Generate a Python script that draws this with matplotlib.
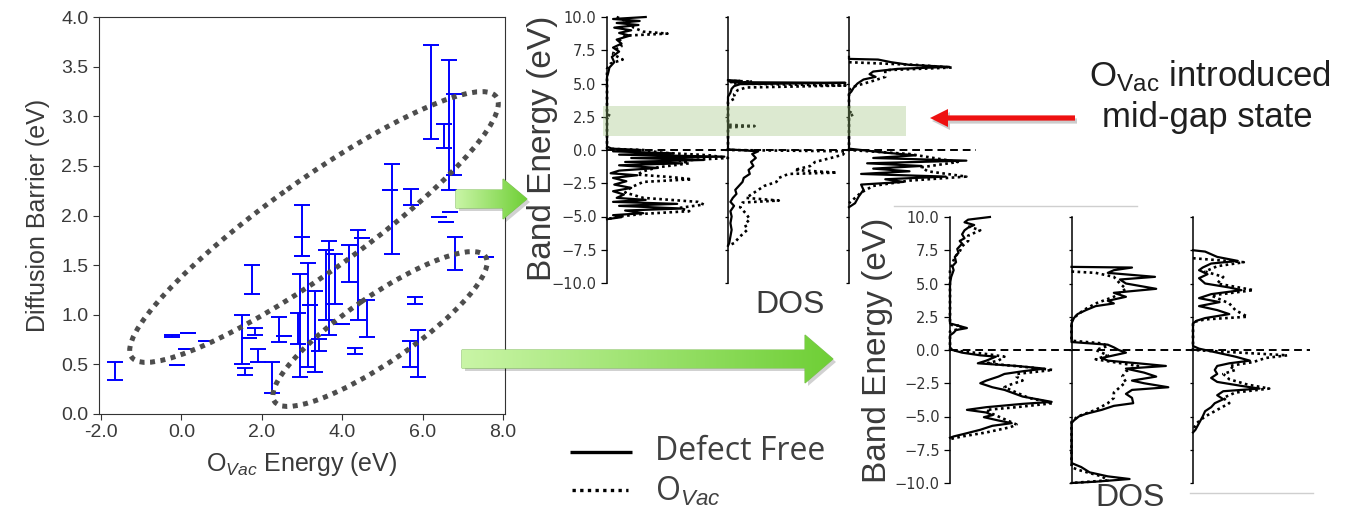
import matplotlib.pyplot as plt
from matplotlib.colors import LinearSegmentedColormap
from matplotlib.patches import Ellipse, Polygon, Rectangle
from matplotlib.ticker import FuncFormatter
import numpy as np

plt.rcParams["mathtext.fontset"] = "custom"
plt.rcParams["mathtext.rm"] = "Liberation Sans"
plt.rcParams["mathtext.it"] = "Liberation Sans:italic"

W, H = 1349, 513
TXT = "#3a3a3a"

# left panel: O-vacancy energy vs diffusion barrier (lower / upper end of each bar)
vac_energy = [-1.64, -0.23, -0.11, 0.17, 0.12, 0.61, 1.51, 1.58, 1.76, 1.84, 1.68,
              1.91, 2.26, 2.44, 2.55, 3.0, 3.0, 2.94, 2.9, 3.15, 3.32, 3.42, 3.2,
              3.6, 3.68, 3.82, 4.0, 4.17, 4.31, 4.4, 4.5, 4.62, 5.24, 5.2, 5.7,
              5.81, 5.68, 5.89, 6.22, 6.53, 6.66, 6.78, 6.41, 6.59, 6.67, 6.8, 7.57]
barrier_lo = [0.34, 0.78, 0.49, 0.82, 0.65, 0.74, 0.50, 0.395, 1.21, 0.80, 0.77,
              0.52, 0.21, 0.73, 0.79, 1.59, 1.59, 0.37, 0.71, 0.47, 0.42, 0.635, 1.10,
              0.95, 0.80, 1.11, 0.91, 1.33, 0.60, 0.95, 1.77, 0.78, 1.61, 2.26, 2.11,
              1.11, 0.47, 0.37, 2.77, 2.68, 2.26, 2.41, 1.98, 1.93, 2.04, 1.45, 1.58]
barrier_hi = [0.52, 0.80, 0.49, 0.82, 0.65, 0.74, 1.00, 0.466, 1.50, 0.87, 0.77,
              0.65, 0.52, 0.98, 0.79, 2.11, 1.78, 1.41, 1.02, 1.52, 1.24, 0.76, 1.10,
              1.65, 1.74, 1.61, 0.91, 1.70, 0.665, 1.85, 1.77, 1.15, 2.52, 2.26, 2.27,
              1.18, 0.74, 0.85, 3.72, 2.92, 3.57, 3.22, 1.98, 1.93, 2.04, 1.78, 1.58]

# DOS curves: (band energy eV, DOS as fraction of panel width)
top_a_free = [(10.0, 0.32), (9.85, 0.05), (9.7, 0.27), (9.55, 0.08), (9.4, 0.26), (9.2, 0.06),
              (9.0, 0.2), (8.8, 0.1), (8.6, 0.19), (8.3, 0.08), (8.0, 0.12), (7.7, 0.05),
              (7.4, 0.1), (7.0, 0.04), (6.6, 0.06), (6.2, 0.02), (5.8, 0.01), (5.5, 0.0),
              (0.25, 0.0), (0.1, 0.04), (0.0, 0.28), (-0.1, 0.05), (-0.25, 0.55), (-0.35, 0.1),
              (-0.5, 0.97), (-0.6, 0.2), (-0.75, 0.8), (-0.9, 0.15), (-1.0, 0.62), (-1.15, 0.1),
              (-1.35, 0.42), (-1.55, 0.1), (-1.75, 0.03), (-1.9, 0.25), (-2.1, 0.05),
              (-2.35, 0.16), (-2.6, 0.06), (-2.85, 0.2), (-3.1, 0.05), (-3.35, 0.14),
              (-3.6, 0.08), (-3.75, 0.32), (-3.9, 0.05), (-4.05, 0.58), (-4.2, 0.1),
              (-4.4, 0.62), (-4.55, 0.15), (-4.75, 0.3), (-4.9, 0.05), (-5.05, 0.12), (-5.2, 0.0)]
top_a_vac = [(10.0, 0.08), (9.6, 0.18), (9.2, 0.22), (8.9, 0.3), (8.75, 0.5), (8.6, 0.15),
             (8.2, 0.1), (7.8, 0.12), (7.5, 0.06), (7.2, 0.05), (6.8, 0.13), (6.5, 0.03),
             (6.1, 0.0), (2.7, 0.0), (2.55, 0.03), (2.4, 0.0), (0.1, 0.0), (0.0, 0.3),
             (-0.2, 0.45), (-0.4, 0.85), (-0.6, 1.0), (-0.8, 0.6), (-1.0, 0.68), (-1.3, 0.42),
             (-1.6, 0.3), (-1.85, 0.25), (-2.05, 0.55), (-2.2, 0.7), (-2.4, 0.3), (-2.8, 0.2),
             (-3.2, 0.15), (-3.6, 0.3), (-3.9, 0.75), (-4.1, 0.8), (-4.35, 0.6), (-4.6, 0.68),
             (-4.8, 0.3), (-5.0, 0.1), (-5.2, 0.0)]
top_b_free = [(5.25, 0.0), (5.2, 0.1), (5.1, 0.02), (5.05, 0.97), (4.95, 0.1), (4.8, 0.05),
              (4.6, 0.03), (4.3, 0.02), (4.0, 0.0), (0.05, 0.0), (-0.1, 0.25), (-0.3, 0.2),
              (-0.6, 0.23), (-0.9, 0.19), (-1.2, 0.21), (-1.5, 0.17), (-1.8, 0.18), (-2.1, 0.13),
              (-2.4, 0.12), (-2.7, 0.09), (-3.0, 0.06), (-3.3, 0.07), (-3.6, 0.04), (-3.9, 0.02),
              (-4.2, 0.05), (-4.6, 0.02), (-5.0, 0.03), (-5.5, 0.02), (-6.0, 0.03), (-6.5, 0.02),
              (-7.0, 0.01), (-7.2, 0.0)]
top_b_vac = [(5.2, 0.0), (5.15, 0.2), (5.0, 0.05), (4.85, 0.97), (4.7, 0.15), (4.5, 0.08),
             (4.2, 0.05), (3.9, 0.06), (3.6, 0.0), (1.9, 0.0), (1.8, 0.22), (1.7, 0.0),
             (0.0, 0.0), (-0.1, 0.97), (-0.35, 0.95), (-0.6, 0.85), (-0.9, 0.72), (-1.2, 0.68),
             (-1.5, 0.55), (-1.7, 0.9), (-1.8, 0.5), (-2.1, 0.42), (-2.4, 0.4), (-2.7, 0.3),
             (-3.0, 0.25), (-3.3, 0.2), (-3.6, 0.15), (-3.8, 0.42), (-3.95, 0.12), (-4.3, 0.1),
             (-4.8, 0.15), (-5.2, 0.18), (-5.6, 0.14), (-6.0, 0.16), (-6.5, 0.1), (-7.0, 0.05),
             (-7.2, 0.0)]
top_c_free = [(7.0, 0.0), (6.85, 0.0), (6.8, 0.24), (6.6, 0.35), (6.4, 0.5), (6.25, 0.83),
              (6.1, 0.4), (5.9, 0.2), (5.7, 0.17), (5.5, 0.22), (5.3, 0.12), (5.0, 0.07),
              (4.7, 0.04), (4.4, 0.02), (4.2, 0.0), (0.1, 0.0), (0.0, 0.1), (-0.2, 0.3),
              (-0.4, 0.55), (-0.6, 0.2), (-0.8, 0.97), (-1.0, 0.15), (-1.2, 0.6), (-1.4, 0.2),
              (-1.6, 0.5), (-1.8, 0.1), (-2.0, 0.8), (-2.2, 0.3), (-2.4, 0.45), (-2.6, 0.1),
              (-3.0, 0.12), (-3.5, 0.08), (-4.0, 0.05), (-4.3, 0.0)]
top_c_vac = [(6.6, 0.0), (6.4, 0.55), (6.2, 0.85), (6.0, 0.3), (5.5, 0.3), (5.2, 0.2),
             (4.8, 0.05), (4.5, 0.0), (2.9, 0.0), (2.7, 0.04), (2.5, 0.0), (0.0, 0.0),
             (-0.3, 0.5), (-0.6, 0.7), (-0.9, 0.9), (-1.3, 0.6), (-1.6, 0.65), (-2.0, 0.97),
             (-2.3, 0.5), (-2.7, 0.2), (-3.2, 0.1), (-3.6, 0.05), (-4.0, 0.0)]
bot_a_free = [(10.0, 0.33), (9.8, 0.15), (9.6, 0.12), (9.4, 0.2), (9.2, 0.15), (9.0, 0.12),
              (8.7, 0.1), (8.4, 0.12), (8.2, 0.08), (8.0, 0.1), (7.6, 0.06), (7.3, 0.07),
              (7.0, 0.04), (6.6, 0.05), (6.3, 0.02), (6.0, 0.03), (5.5, 0.01), (5.0, 0.0),
              (2.0, 0.0), (1.8, 0.08), (1.65, 0.14), (1.5, 0.05), (1.3, 0.03), (1.1, 0.0),
              (0.2, 0.0), (0.0, 0.02), (-0.2, 0.1), (-0.4, 0.25), (-0.5, 0.38), (-0.8, 0.3),
              (-1.0, 0.23), (-1.2, 0.55), (-1.4, 0.78), (-1.6, 0.6), (-1.8, 0.45), (-2.0, 0.4),
              (-2.3, 0.3), (-2.5, 0.25), (-2.8, 0.35), (-3.0, 0.45), (-3.5, 0.6), (-3.9, 0.84),
              (-4.05, 0.6), (-4.3, 0.3), (-4.5, 0.14), (-4.7, 0.3), (-4.9, 0.35), (-5.05, 0.28),
              (-5.3, 0.4), (-5.5, 0.51), (-5.7, 0.35), (-6.0, 0.25), (-6.3, 0.12), (-6.5, 0.03),
              (-6.6, 0.0)]
bot_a_vac = [(9.3, 0.15), (9.0, 0.25), (8.6, 0.15), (8.2, 0.15), (7.8, 0.1), (7.4, 0.08),
             (7.0, 0.04), (6.0, 0.0), (1.9, 0.0), (1.8, 0.1), (1.6, 0.08), (1.4, 0.0),
             (0.0, 0.0), (-0.3, 0.3), (-0.5, 0.45), (-0.8, 0.4), (-1.0, 0.3), (-1.3, 0.65),
             (-1.5, 0.85), (-1.8, 0.55), (-2.0, 0.55), (-2.3, 0.6), (-2.6, 0.5), (-2.8, 0.45),
             (-3.2, 0.55), (-3.6, 0.65), (-4.0, 0.85), (-4.3, 0.55), (-4.5, 0.3), (-4.8, 0.35),
             (-5.2, 0.45), (-5.6, 0.55), (-5.8, 0.5), (-6.2, 0.3), (-6.5, 0.1), (-6.7, 0.0)]
bot_b_free = [(6.25, 0.0), (6.2, 0.5), (6.0, 0.35), (5.8, 0.3), (5.5, 0.69), (5.3, 0.4),
              (5.0, 0.45), (4.6, 0.7), (4.3, 0.35), (4.0, 0.45), (3.7, 0.3), (3.5, 0.35),
              (3.3, 0.2), (3.0, 0.12), (2.7, 0.05), (2.4, 0.02), (2.0, 0.0), (0.6, 0.0),
              (0.5, 0.15), (0.4, 0.3), (0.2, 0.35), (0.0, 0.39), (-0.2, 0.45), (-0.4, 0.35),
              (-0.6, 0.25), (-0.8, 0.3), (-1.0, 0.55), (-1.2, 0.78), (-1.4, 0.45), (-1.7, 0.6),
              (-2.0, 0.7), (-2.3, 0.5), (-2.5, 0.6), (-2.8, 0.8), (-3.0, 0.5), (-3.3, 0.45),
              (-3.6, 0.5), (-4.0, 0.51), (-4.2, 0.35), (-4.5, 0.25), (-4.8, 0.12), (-5.0, 0.06),
              (-5.3, 0.02), (-5.5, 0.0), (-8.5, 0.0), (-8.8, 0.08), (-9.2, 0.15), (-9.5, 0.3),
              (-9.7, 0.48), (-9.9, 0.2), (-10.0, 0.0)]
bot_b_vac = [(5.9, 0.0), (5.8, 0.2), (5.5, 0.35), (5.0, 0.4), (4.6, 0.45), (4.0, 0.35),
             (3.5, 0.2), (3.0, 0.1), (2.5, 0.03), (2.2, 0.0), (0.7, 0.0), (0.5, 0.25),
             (0.3, 0.3), (0.0, 0.2), (-0.4, 0.3), (-0.7, 0.2), (-1.2, 0.55), (-1.6, 0.45),
             (-2.0, 0.42), (-2.4, 0.45), (-2.8, 0.4), (-3.2, 0.35), (-3.6, 0.35), (-4.0, 0.3),
             (-4.5, 0.2), (-5.0, 0.05), (-5.4, 0.0), (-8.8, 0.0), (-9.0, 0.05), (-9.5, 0.25),
             (-9.8, 0.3), (-10.0, 0.0)]
bot_c_free = [(7.5, 0.0), (7.4, 0.1), (7.0, 0.2), (6.7, 0.37), (6.5, 0.15), (6.2, 0.08),
              (6.0, 0.05), (5.7, 0.12), (5.4, 0.05), (5.0, 0.1), (4.7, 0.3), (4.5, 0.4),
              (4.2, 0.15), (3.9, 0.05), (3.6, 0.22), (3.3, 0.05), (3.0, 0.2), (2.7, 0.3),
              (2.4, 0.1), (2.2, 0.03), (2.0, 0.0), (0.3, 0.0), (0.1, 0.05), (-0.2, 0.2),
              (-0.5, 0.35), (-0.8, 0.47), (-1.0, 0.3), (-1.2, 0.2), (-1.5, 0.18), (-1.8, 0.2),
              (-2.1, 0.15), (-2.4, 0.2), (-2.7, 0.4), (-2.9, 0.55), (-3.1, 0.25), (-3.4, 0.2),
              (-3.7, 0.25), (-4.0, 0.18), (-4.3, 0.15), (-4.6, 0.1), (-5.0, 0.08), (-5.5, 0.05),
              (-6.0, 0.02), (-6.2, 0.0)]
bot_c_vac = [(6.9, 0.0), (6.6, 0.42), (6.3, 0.2), (5.9, 0.1), (5.5, 0.25), (5.0, 0.2),
             (4.5, 0.5), (4.1, 0.15), (3.5, 0.3), (3.0, 0.35), (2.5, 0.45), (2.3, 0.1),
             (2.1, 0.0), (0.0, 0.0), (-0.1, 0.2), (-0.4, 0.78), (-0.6, 0.6), (-0.9, 0.5),
             (-1.2, 0.3), (-1.5, 0.35), (-1.8, 0.25), (-2.2, 0.3), (-2.6, 0.45), (-2.9, 0.63),
             (-3.2, 0.35), (-3.6, 0.25), (-4.0, 0.3), (-4.5, 0.2), (-5.0, 0.1), (-5.5, 0.03),
             (-6.0, 0.0)]

energy_ticks = [-10, -7.5, -5, -2.5, 0, 2.5, 5, 7.5, 10]
DOTS = (0, (1, 1.3))


def box(x0, y0, x1, y1):
    # pixel box (top-left origin) -> figure fraction rect
    return [x0 / W, 1 - y1 / H, (x1 - x0) / W, (y1 - y0) / H]


def dos_panel(rect, free, vac, labels, dash_end=1.0, z=3):
    ax = fig.add_axes(box(*rect), zorder=z)
    ax.patch.set_alpha(0)
    ax.set_xlim(0, 1)
    ax.set_ylim(-10, 10)
    for s in ("top", "right", "bottom"):
        ax.spines[s].set_visible(False)
    ax.spines["left"].set_linewidth(1.1)
    ax.set_xticks([])
    ax.set_yticks(energy_ticks)
    ax.tick_params(axis="y", length=4 if labels else 2.5, width=0.9,
                   labelsize=10.5, labelcolor="#333333", labelleft=labels)
    e, d = zip(*free)
    ax.plot(d, e, color="k", lw=1.6, clip_on=False)
    e, d = zip(*vac)
    ax.plot(d, e, color="k", lw=1.9, ls=DOTS, clip_on=False)
    ax.axhline(0, xmin=0, xmax=dash_end, color="k", lw=1.4, ls=(0, (4, 2.5)), clip_on=False)
    return ax


fig = plt.figure(figsize=(W / 100, H / 100), dpi=100)

# ---- left: error bar chart
ax = fig.add_axes(box(99, 17, 505, 414), zorder=1)
y = [(lo + hi) / 2 for lo, hi in zip(barrier_lo, barrier_hi)]
yerr = [(hi - lo) / 2 for lo, hi in zip(barrier_lo, barrier_hi)]
ax.errorbar(vac_energy, y, yerr=yerr, fmt="none", ecolor="#0000ff",
            elinewidth=1.4, capsize=5.5, capthick=1.4)
ax.set_xlim(-2.05, 8.05)
ax.set_ylim(0, 4.0)
ax.set_xticks([-2, 0, 2, 4, 6, 8])
ax.set_yticks([0, 0.5, 1, 1.5, 2, 2.5, 3, 3.5, 4])
fmt = FuncFormatter(lambda v, p: f"{v:.1f}")
ax.xaxis.set_major_formatter(fmt)
ax.yaxis.set_major_formatter(fmt)
ax.tick_params(labelsize=14, labelcolor=TXT, color="#333333", length=4,
               labelfontfamily="Liberation Sans")
for s in ax.spines.values():
    s.set_color("#333333")
ax.set_xlabel("O$_{Vac}$ Energy (eV)", fontsize=18, color=TXT, family="Liberation Sans", labelpad=6)
ax.set_ylabel("Diffusion Barrier (eV)", fontsize=18, color=TXT, family="Liberation Sans", labelpad=8)

# ---- top DOS group
top_x = [607, 728, 849]
dos_panel((top_x[0], 17, top_x[0] + 121, 283), top_a_free, top_a_vac, True, z=1)
dos_panel((top_x[1], 17, top_x[1] + 121, 283), top_b_free, top_b_vac, False, z=1)
dos_panel((top_x[2], 17, top_x[2] + 121, 283), top_c_free, top_c_vac, False, dash_end=1.05, z=1)

# white backdrop of the lower DOS picture
cover = fig.add_axes(box(894, 206, 1322, 495), zorder=2)
cover.set_xticks([])
cover.set_yticks([])
for s in cover.spines.values():
    s.set_visible(False)
cover.set_facecolor("white")

# ---- bottom DOS group
bot_x = [950, 1071.5, 1193]
dos_panel((bot_x[0], 217, bot_x[0] + 121, 483), bot_a_free, bot_a_vac, True)
dos_panel((bot_x[1], 217, bot_x[1] + 121, 483), bot_b_free, bot_b_vac, False)
dos_panel((bot_x[2], 217, bot_x[2] + 121, 483), bot_c_free, bot_c_vac, False, dash_end=0.97)

# ---- overlay in pixel coordinates for annotations
ov = fig.add_axes([0, 0, 1, 1], zorder=10)
ov.set_xlim(0, W)
ov.set_ylim(H, 0)
ov.axis("off")

fig.text(542 / W, 1 - 148 / H, "Band Energy (eV)", rotation=90, ha="center", va="center",
         fontsize=24, color=TXT, family="Liberation Sans", zorder=11)
fig.text(878 / W, 1 - 350 / H, "Band Energy (eV)", rotation=90, ha="center", va="center",
         fontsize=24, color=TXT, family="Liberation Sans", zorder=11)
ov.text(790, 305, "DOS", ha="center", va="center", fontsize=23, color=TXT, family="Liberation Sans")
ov.text(1130, 498, "DOS", ha="center", va="center", fontsize=23, color=TXT, family="Liberation Sans")

# mid-gap band
ov.add_patch(Rectangle((603, 106), 303, 30, color="#9cc27a", alpha=0.35, lw=0))

# picture edges
ov.plot([894, 1137], [206, 206], color="#cfcfcf", lw=1)
ov.plot([1190, 1313], [492.5, 492.5], color="#cfcfcf", lw=1)

# dotted ellipses
for (cx, cy), w, h, ang in [((314, 227), 448, 92, -35.5), ((380, 329), 256, 66, -34.5)]:
    ov.add_patch(Ellipse((cx, cy), w, h, angle=ang, fill=False, ec="#4d4d4d",
                         lw=3.6, ls=(0, (1, 1.1))))

green = LinearSegmentedColormap.from_list("g", ["#c9f5a6", "#6fcf36"])


def arrow_poly(x0, x1, yc, shaft, head, head_len):
    return [(x0, yc - shaft), (x1 - head_len, yc - shaft), (x1 - head_len, yc - head),
            (x1, yc), (x1 - head_len, yc + head), (x1 - head_len, yc + shaft), (x0, yc + shaft)]


def green_arrow(x0, x1, yc, shaft, head, head_len):
    pts = arrow_poly(x0, x1, yc, shaft, head, head_len)
    ov.add_patch(Polygon([(px + 3, py + 3) for px, py in pts], color="#000000", alpha=0.18, lw=0))
    poly = Polygon(pts, fc="none", ec="#7cbf52", lw=0.8)
    ov.add_patch(poly)
    im = ov.imshow(np.linspace(0, 1, 200)[None, :], cmap=green, aspect="auto",
                   extent=(x0, x1, yc + head, yc - head), zorder=1)
    im.set_clip_path(poly)


green_arrow(456, 527, 199, 9, 20, 24)
green_arrow(462, 833, 359, 9, 24, 28)
ov.set_xlim(0, W)
ov.set_ylim(H, 0)

# red arrow to the mid-gap band
red_pts = [(1075, 115.4), (948, 115.4), (948, 109), (930, 118), (948, 127), (948, 120.6), (1075, 120.6)]
ov.add_patch(Polygon([(px + 2, py + 3) for px, py in red_pts], color="#000000", alpha=0.2, lw=0))
ov.add_patch(Polygon(red_pts, color="#ee1111", lw=0))

ov.text(1210, 76, r"O$_{\mathrm{Vac}}$ introduced", ha="center", va="center", fontsize=25,
        color="#1f1f1f", family="Liberation Sans")
ov.text(1207, 118, "mid-gap state", ha="center", va="center", fontsize=25,
        color="#1f1f1f", family="Liberation Sans")

# legend
ov.plot([570, 632], [452, 452], color="k", lw=2.4, solid_capstyle="butt")
ov.plot([572, 628], [490, 490], color="k", lw=2.4, ls=DOTS)
ov.text(655, 452, "Defect Free", va="center", fontsize=23, color="#404040", family="Open Sans")
ov.text(655, 492, "O$_{Vac}$", va="center", fontsize=23, color="#404040", family="Open Sans")

fig.savefig("out.png", dpi=100)
